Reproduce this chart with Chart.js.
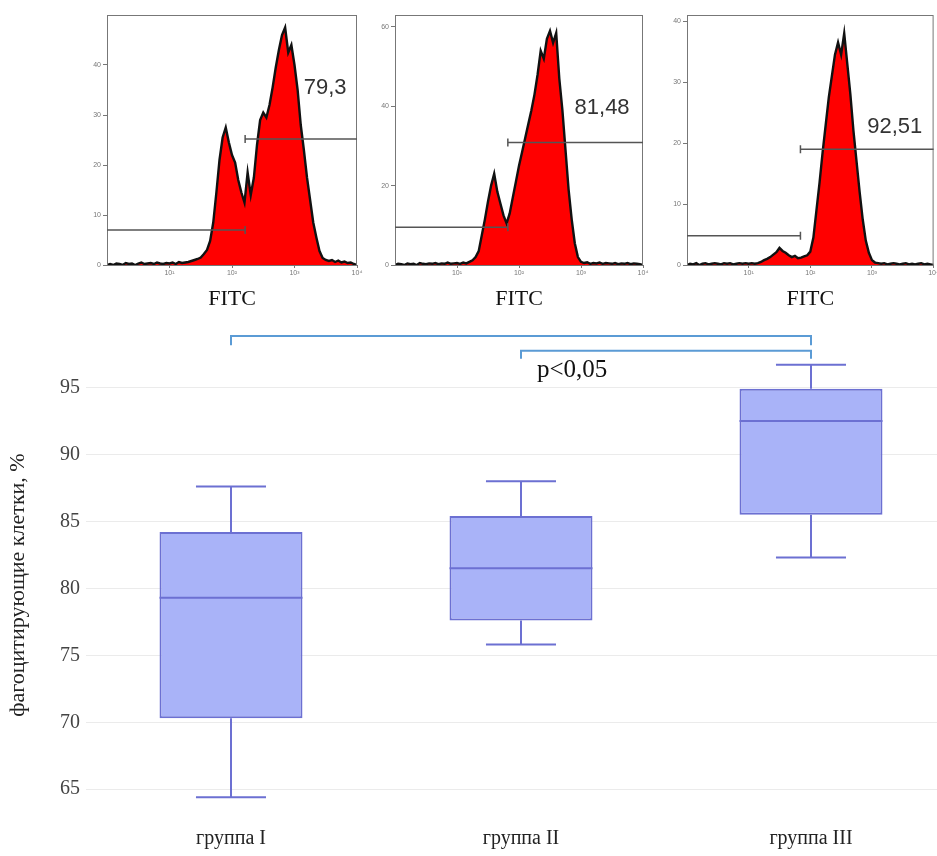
<!DOCTYPE html>
<html>
<head>
<meta charset="utf-8">
<script src="https://cdn.jsdelivr.net/npm/chart.js@4/dist/chart.umd.min.js"></script>
<style>
  body { margin: 0; background: #fff; overflow: hidden; }
  #wrap { position: relative; width: 937px; height: 856px; overflow: hidden; }
  canvas { position: absolute; }
</style>
</head>
<body>
<div id="wrap">
  <canvas id="hist1" width="303" height="315" style="left:67px;top:0"></canvas>
  <canvas id="hist2" width="300" height="315" style="left:355px;top:0"></canvas>
  <canvas id="hist3" width="293" height="315" style="left:647px;top:0"></canvas>
  <canvas id="boxChart" width="956" height="536" style="left:0;top:320px"></canvas>
</div>
<script>
// FITC intensity bins, in decades (log10)
const fitcBins = [
  0, 0.05, 0.1, 0.15, 0.2, 0.25, 0.3, 0.35, 0.4, 0.45,
  0.5, 0.55, 0.6, 0.65, 0.7, 0.75, 0.8, 0.85, 0.9, 0.95,
  1, 1.05, 1.1, 1.15, 1.2, 1.25, 1.3, 1.35, 1.4, 1.45,
  1.5, 1.55, 1.6, 1.65, 1.7, 1.75, 1.8, 1.85, 1.9, 1.95,
  2, 2.05, 2.1, 2.15, 2.2, 2.25, 2.3, 2.35, 2.4, 2.45,
  2.5, 2.55, 2.6, 2.65, 2.7, 2.75, 2.8, 2.85, 2.9, 2.95,
  3, 3.05, 3.1, 3.15, 3.2, 3.25, 3.3, 3.35, 3.4, 3.45,
  3.5, 3.55, 3.6, 3.65, 3.7, 3.75, 3.8, 3.85, 3.9, 3.95,
  4
];
const fitcTickPos = [1, 2, 3, 4];
const fitcTickLabels = ["10¹", "10²", "10³", "10⁴"];

// cell counts per bin
const hist1Counts = [
  0, 0.2, 0, 0.3, 0.2, 0, 0.4, 0.2, 0.3, 0,
  0.3, 0.5, 0.2, 0.3, 0.4, 0.2, 0.5, 0.3, 0.2, 0.4,
  0.3, 0.5, 0.2, 0.6, 0.4, 0.5, 0.6, 0.8, 1.0, 1.2,
  1.5, 2.2, 3.0, 4.8, 8.5, 14.5, 21, 25.5, 27.5, 24.5,
  22, 20.5, 17, 14.5, 12.5, 18.5, 14, 17.5, 24, 29,
  30.5, 29.5, 32, 35.5, 39.5, 43, 46, 47.5, 42.5, 44,
  40, 35, 28, 23, 17.5, 13, 8.5, 5.5, 2.8, 1.4,
  1.0, 0.8, 1.0, 0.6, 0.9, 0.5, 0.7, 0.4, 0.5, 0.2,
  0
];
const hist2Counts = [
  0, 0.3, 0.2, 0, 0.4, 0.2, 0.3, 0, 0.5, 0.3,
  0.2, 0.4, 0.3, 0.5, 0.2, 0.4, 0.3, 0.6, 0.3, 0.4,
  0.5, 0.3, 0.6, 0.4, 0.8, 1.2, 2.0, 3.5, 7.5, 11.5,
  16, 20, 23, 18.5, 15.5, 12.5, 10.5, 13, 17, 21,
  25, 28.5, 32, 35.5, 39, 43, 48, 54, 52, 57,
  59, 56, 58.5, 47, 39, 29, 19, 11.5, 5.5, 2,
  0.8, 0.5, 0.7, 0.3, 0.5, 0.4, 0.6, 0.3, 0.5, 0.4,
  0.3, 0.5, 0.2, 0.4, 0.3, 0.5, 0.2, 0.4, 0.3, 0.2,
  0
];
const hist3Counts = [
  0, 0.2, 0.1, 0.3, 0, 0.2, 0.3, 0.1, 0.2, 0.3,
  0.2, 0.1, 0.3, 0.2, 0.3, 0.1, 0.2, 0.3, 0.2, 0.3,
  0.2, 0.3, 0.2, 0.3, 0.5, 0.8, 1.0, 1.3, 1.7, 2.1,
  2.8, 2.3, 2.0, 1.6, 1.3, 1.5, 1.1, 1.2, 1.4, 1.6,
  2.2, 4.5, 9, 13.5, 18.5, 23, 27.5, 31, 34.5, 36.5,
  34.5, 38, 33, 28, 22, 17, 12, 7.5, 4, 2,
  0.8, 0.4, 0.3, 0.2, 0.3, 0.1, 0.2, 0.3, 0.2, 0.1,
  0.2, 0.3, 0.1, 0.2, 0.1, 0.2, 0.3, 0.1, 0.2, 0.1,
  0
];
const hist1Ticks = [0, 10, 20, 30, 40];
const hist2Ticks = [0, 20, 40, 60];
const hist3Ticks = [0, 10, 20, 30, 40];
const histPercents = ["79,3", "81,48", "92,51"];

// box plot: phagocytosing cells, %
const groups = ["группа I", "группа II", "группа III"];
const boxMin = [64.4, 75.8, 82.3];
const boxQ1 = [70.3, 77.6, 85.5];
const boxMedian = [79.3, 81.5, 92.5];
const boxQ3 = [84.2, 85.4, 94.9];
const boxMax = [87.6, 88.0, 96.7];
const yTicks = [65, 70, 75, 80, 85, 90, 95];

const serif = '"Liberation Serif", "Times New Roman", serif';
Chart.defaults.font.family = serif;

// frame around the histogram, gate markers and the percent label
const frameAndGates = {
  id: "frameAndGates",
  afterDatasetsDraw(chart, args, opts) {
    const { ctx, chartArea: a, scales: { x, y } } = chart;
    ctx.save();
    ctx.strokeStyle = "#777";
    ctx.lineWidth = 1;
    ctx.strokeRect(a.left + 0.5, a.top + 0.5, a.right - a.left - 1, a.bottom - a.top);
    ctx.strokeStyle = "#555";
    ctx.lineWidth = 1.5;
    opts.gates.forEach(g => {
      const x1 = x.getPixelForValue(g.from);
      const x2 = x.getPixelForValue(g.to);
      const yy = y.getPixelForValue(g.level);
      ctx.beginPath();
      ctx.moveTo(x1, yy);
      ctx.lineTo(x2, yy);
      [g.from, g.to].forEach(v => {
        if (v > x.min && v < x.max) {
          const px = x.getPixelForValue(v);
          ctx.moveTo(px, yy - 4);
          ctx.lineTo(px, yy + 4);
        }
      });
      ctx.stroke();
    });
    ctx.fillStyle = "#333";
    ctx.font = '22px "Liberation Sans", Arial, sans-serif';
    ctx.textAlign = "center";
    ctx.textBaseline = "middle";
    ctx.fillText(opts.label, x.getPixelForValue(opts.labelAt[0]), y.getPixelForValue(opts.labelAt[1]));
    ctx.restore();
  }
};

function makeHist(id, counts, yMax, ticks, padRight, gates, label, labelAt) {
  return new Chart(document.getElementById(id), {
    type: "line",
    data: {
      labels: fitcBins,
      datasets: [{
        data: counts,
        fill: "origin",
        backgroundColor: "#ff0000",
        borderColor: "#111",
        borderWidth: 2.4,
        pointRadius: 0,
        tension: 0
      }]
    },
    options: {
      responsive: false,
      animation: false,
      layout: { padding: { top: 15, right: padRight, left: 0, bottom: 0 } },
      plugins: {
        legend: { display: false },
        tooltip: { enabled: false },
        frameAndGates: { gates: gates, label: label, labelAt: labelAt }
      },
      scales: {
        x: {
          type: "linear",
          min: 0,
          max: 4,
          afterBuildTicks: s => { s.ticks = fitcTickPos.map(v => ({ value: v })); },
          ticks: {
            callback: (v, i) => fitcTickLabels[i],
            font: { size: 7, family: '"Liberation Sans", Arial, sans-serif' },
            color: "#777",
            padding: 1,
            maxRotation: 0
          },
          grid: { drawOnChartArea: false, tickLength: 3, color: "#777" },
          border: { display: false },
          title: {
            display: true,
            text: "FITC",
            font: { size: 22, family: serif },
            color: "#111",
            padding: { top: 0, bottom: 3 }
          },
          afterFit: s => { s.height = 50; }
        },
        y: {
          min: 0,
          max: yMax,
          afterBuildTicks: s => { s.ticks = ticks.map(v => ({ value: v })); },
          ticks: {
            font: { size: 7, family: '"Liberation Sans", Arial, sans-serif' },
            color: "#777",
            padding: 2
          },
          grid: { drawOnChartArea: false, tickLength: 4, color: "#777" },
          border: { display: false },
          afterFit: s => { s.width = 40; }
        }
      }
    },
    plugins: [frameAndGates]
  });
}

makeHist("hist1", hist1Counts, 50, hist1Ticks, 13,
  [{ from: 0, to: 2.21, level: 7 }, { from: 2.21, to: 4, level: 25.2 }],
  histPercents[0], [3.49, 35.4]);
makeHist("hist2", hist2Counts, 63, hist2Ticks, 12,
  [{ from: 0, to: 1.82, level: 9.5 }, { from: 1.82, to: 4, level: 30.9 }],
  histPercents[1], [3.34, 39.7]);
makeHist("hist3", hist3Counts, 41, hist3Ticks, 2,
  [{ from: 0, to: 1.84, level: 4.8 }, { from: 1.84, to: 4, level: 19 }],
  histPercents[2], [3.37, 22.6]);

// whiskers, caps and median line on top of the floating-bar boxes
const boxParts = {
  id: "boxParts",
  afterDatasetsDraw(chart) {
    const { ctx, scales: { y } } = chart;
    const meta = chart.getDatasetMeta(0);
    ctx.save();
    ctx.strokeStyle = "#6c70d2";
    ctx.lineWidth = 2;
    meta.data.forEach((bar, i) => {
      const cx = bar.x;
      const half = bar.width / 2;
      const cap = bar.width * 0.245;
      const yMin = y.getPixelForValue(boxMin[i]);
      const yQ1 = y.getPixelForValue(boxQ1[i]);
      const yMed = y.getPixelForValue(boxMedian[i]);
      const yQ3 = y.getPixelForValue(boxQ3[i]);
      const yMax = y.getPixelForValue(boxMax[i]);
      ctx.beginPath();
      ctx.moveTo(cx, yQ3); ctx.lineTo(cx, yMax);
      ctx.moveTo(cx - cap, yMax); ctx.lineTo(cx + cap, yMax);
      ctx.moveTo(cx, yQ1); ctx.lineTo(cx, yMin);
      ctx.moveTo(cx - cap, yMin); ctx.lineTo(cx + cap, yMin);
      ctx.moveTo(cx - half, yMed); ctx.lineTo(cx + half, yMed);
      ctx.stroke();
    });
    ctx.restore();
  }
};

// significance brackets and p-value
const brackets = {
  id: "brackets",
  afterDraw(chart, args, opts) {
    const { ctx, scales: { x, y } } = chart;
    ctx.save();
    ctx.strokeStyle = "#5b9bd5";
    ctx.lineWidth = 2;
    opts.items.forEach(b => {
      const x1 = x.getPixelForValue(b.from);
      const x2 = x.getPixelForValue(b.to);
      const top = y.getPixelForValue(b.level);
      const end = y.getPixelForValue(b.level - b.drop);
      ctx.beginPath();
      ctx.moveTo(x1, end);
      ctx.lineTo(x1, top);
      ctx.lineTo(x2, top);
      ctx.lineTo(x2, end);
      ctx.stroke();
    });
    ctx.fillStyle = "#111";
    ctx.font = "25px " + serif;
    ctx.textAlign = "left";
    ctx.textBaseline = "alphabetic";
    ctx.fillText(opts.text, x.getPixelForValue(opts.at[0]), y.getPixelForValue(opts.at[1]));
    ctx.restore();
  }
};

new Chart(document.getElementById("boxChart"), {
  type: "bar",
  data: {
    labels: groups,
    datasets: [{
      data: groups.map((g, i) => [boxQ1[i], boxQ3[i]]),
      backgroundColor: "#a9b3f8",
      borderColor: "#6c70d2",
      borderWidth: 2,
      borderSkipped: false,
      barPercentage: 0.493,
      categoryPercentage: 1
    }]
  },
  options: {
    responsive: false,
    animation: false,
    layout: { padding: { top: 34, right: 0, left: 0, bottom: 0 } },
    plugins: {
      legend: { display: false },
      tooltip: { enabled: false },
      brackets: {
        items: [
          { from: 0, to: 2, level: 98.85, drop: 0.7 },
          { from: 1, to: 2, level: 97.75, drop: 0.6 }
        ],
        text: "p<0,05",
        at: [1.055, 95.75]
      }
    },
    scales: {
      x: {
        grid: { display: false },
        border: { display: false },
        ticks: { padding: 3, color: "#222", font: { size: 20, family: serif }, maxRotation: 0 },
        afterFit: s => { s.height = 40; }
      },
      y: {
        min: 63,
        max: 97.5,
        afterBuildTicks: s => { s.ticks = yTicks.map(v => ({ value: v })); },
        grid: { color: "#ebebeb", drawTicks: false },
        border: { display: false },
        ticks: { padding: 6, color: "#444", font: { size: 20, family: serif } },
        title: {
          display: true,
          text: "фагоцитирующие клетки, %",
          color: "#222",
          font: { size: 22, family: serif },
          padding: { top: 5, bottom: 0 }
        },
        afterFit: s => { s.width = 86; }
      }
    }
  },
  plugins: [boxParts, brackets]
});
</script>
</body>
</html>
